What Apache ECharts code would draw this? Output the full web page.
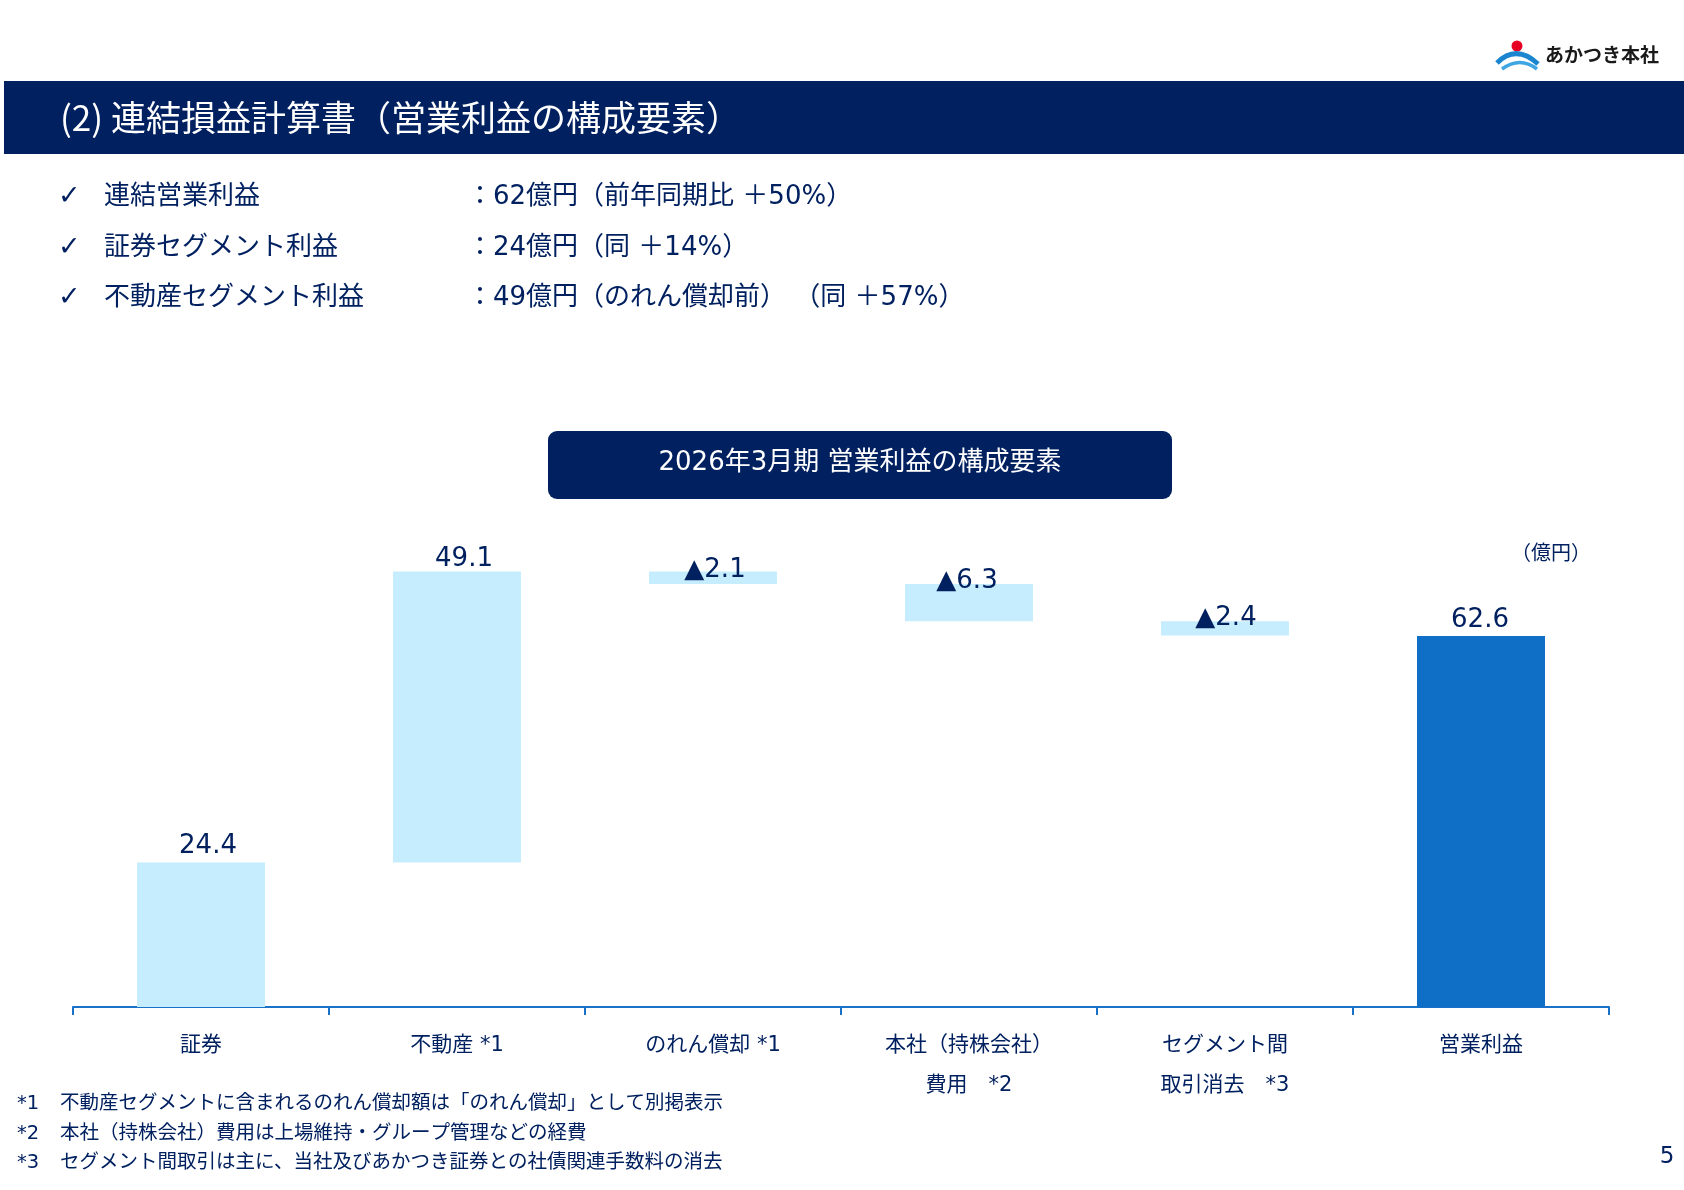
<!DOCTYPE html>
<html>
<head>
<meta charset="utf-8">
<script src="https://cdn.jsdelivr.net/npm/echarts@6/dist/echarts.min.js"></script>
<style>
html,body{margin:0;padding:0;background:#fff;}
#chart{width:1684px;height:1190px;}
</style>
</head>
<body>
<div id="chart"></div>
<script>
// ---- data ----
const categories = ['証券', '不動産 *1', 'のれん償却 *1', '本社（持株会社）\n費用　*2', 'セグメント間\n取引消去　*3', '営業利益'];
const values = [24.4, 49.1, -2.1, -6.3, -2.4, 62.6];
const isTotal = [false, false, false, false, false, true];

const pageTitle = '(2) 連結損益計算書（営業利益の構成要素）';
const bulletLabels = ['連結営業利益', '証券セグメント利益', '不動産セグメント利益'];
const bulletValues = ['：62億円（前年同期比 ＋50%）', '：24億円（同 ＋14%）', '：49億円（のれん償却前） （同 ＋57%）'];
const chartTitle = '2026年3月期 営業利益の構成要素';
const unitLabel = '（億円）';
const footMarks = ['*1', '*2', '*3'];
const footTexts = [
  '不動産セグメントに含まれるのれん償却額は「のれん償却」として別掲表示',
  '本社（持株会社）費用は上場維持・グループ管理などの経費',
  'セグメント間取引は主に、当社及びあかつき証券との社債関連手数料の消去'
];
const companyName = 'あかつき本社';
const pageNumber = '5';

// ---- style ----
const NAVY = '#002060';
const LIGHT = '#C5EDFD';
const DARK = '#0F6FC6';
const FONT = "'DejaVu Sans', 'Noto Sans CJK JP', sans-serif";
const JFONT = "'Noto Sans CJK JP', sans-serif";
const labelDx = [7, 7, 2, -2, 1, -1];
const labelDist = [3, -1, -12, -10, -10, 3];

// waterfall build
const baseData = [], barData = [];
let run = 0;
values.forEach((v, i) => {
  let b, h;
  if (isTotal[i]) { b = 0; h = v; }
  else if (v >= 0) { b = run; h = v; run += v; }
  else { run += v; b = run; h = -v; }
  baseData.push(+b.toFixed(2));
  barData.push({
    value: +h.toFixed(2),
    itemStyle: { color: isTotal[i] ? DARK : LIGHT },
    label: { distance: labelDist[i], offset: [labelDx[i], 0] }
  });
});

const graphics = [];
// header bar
graphics.push({ type: 'rect', shape: { x: 4, y: 81, width: 1680, height: 73 }, style: { fill: NAVY }, silent: true });
graphics.push({ type: 'text', x: 60, y: 118, style: { text: pageTitle, fill: '#fff', font: '35px ' + JFONT, textVerticalAlign: 'middle' } });
// logo
graphics.push({ type: 'circle', shape: { cx: 1517, cy: 46, r: 5.5 }, style: { fill: '#E60026' } });
graphics.push({ type: 'bezierCurve', shape: { x1: 1497, y1: 63, x2: 1538, y2: 64, cpx1: 1516, cpy1: 44 }, style: { stroke: '#1B86CF', lineWidth: 5, fill: null } });
graphics.push({ type: 'bezierCurve', shape: { x1: 1502, y1: 69, x2: 1537, y2: 69, cpx1: 1520, cpy1: 56 }, style: { stroke: '#3FA6E3', lineWidth: 3.5, fill: null } });
graphics.push({ type: 'text', x: 1545, y: 55, style: { text: companyName, fill: '#1a1a1a', font: 'bold 19px ' + JFONT, textVerticalAlign: 'middle' } });
// bullets
const rowY = [197, 248, 298];
bulletLabels.forEach((t, i) => {
  graphics.push({ type: 'text', x: 58, y: rowY[i], style: { text: '✓', fill: NAVY, font: '27px ' + FONT, textVerticalAlign: 'middle' } });
  graphics.push({ type: 'text', x: 104, y: rowY[i], style: { text: t, fill: NAVY, font: '26px ' + FONT, textVerticalAlign: 'middle' } });
  graphics.push({ type: 'text', x: 467, y: rowY[i], style: { text: bulletValues[i], fill: NAVY, font: '26px ' + FONT, textVerticalAlign: 'middle' } });
});
// chart title box
graphics.push({ type: 'rect', shape: { x: 548, y: 431, width: 624, height: 68, r: 9 }, style: { fill: NAVY } });
graphics.push({ type: 'text', x: 860, y: 463, style: { text: chartTitle, fill: '#fff', font: '26px ' + FONT, textAlign: 'center', textVerticalAlign: 'middle' } });
// unit
graphics.push({ type: 'text', x: 1551, y: 555, style: { text: unitLabel, fill: NAVY, font: '20px ' + FONT, textAlign: 'center', textVerticalAlign: 'middle' } });
// footnotes
const footY = [1104, 1134, 1163];
footMarks.forEach((m, i) => {
  graphics.push({ type: 'text', x: 17, y: footY[i], style: { text: m, fill: NAVY, font: '19.5px ' + FONT, textVerticalAlign: 'middle' } });
  graphics.push({ type: 'text', x: 60, y: footY[i], style: { text: footTexts[i], fill: NAVY, font: '19.5px ' + FONT, textVerticalAlign: 'middle' } });
});
// page number
graphics.push({ type: 'text', x: 1667, y: 1157, style: { text: pageNumber, fill: NAVY, font: '23px ' + FONT, textAlign: 'center', textVerticalAlign: 'middle' } });

const chart = echarts.init(document.getElementById('chart'), null, { renderer: 'canvas' });
chart.setOption({
  animation: false,
  backgroundColor: '#fff',
  grid: { left: 73, right: 75, top: 533, bottom: 183, containLabel: false },
  xAxis: {
    type: 'category',
    data: categories,
    axisLine: { lineStyle: { color: '#1A72C8', width: 2 } },
    axisTick: { show: true, length: 8, lineStyle: { color: '#1A72C8', width: 2 } },
    axisLabel: { interval: 0, color: NAVY, fontSize: 21, fontFamily: FONT, lineHeight: 40, margin: 19 }
  },
  yAxis: { type: 'value', min: 0, max: 80, show: false, splitLine: { show: false } },
  series: [
    { type: 'bar', stack: 'w', data: baseData, barWidth: '50%', itemStyle: { color: 'rgba(0,0,0,0)' }, silent: true, label: { show: false } },
    {
      type: 'bar', stack: 'w', data: barData, barWidth: '50%',
      label: {
        show: true, position: 'top', color: NAVY, fontSize: 26, fontFamily: FONT,
        formatter: p => { const v = values[p.dataIndex]; return v < 0 ? '▲' + Math.abs(v).toFixed(1) : v.toFixed(1); }
      }
    }
  ],
  graphic: graphics
});
</script>
</body>
</html>
